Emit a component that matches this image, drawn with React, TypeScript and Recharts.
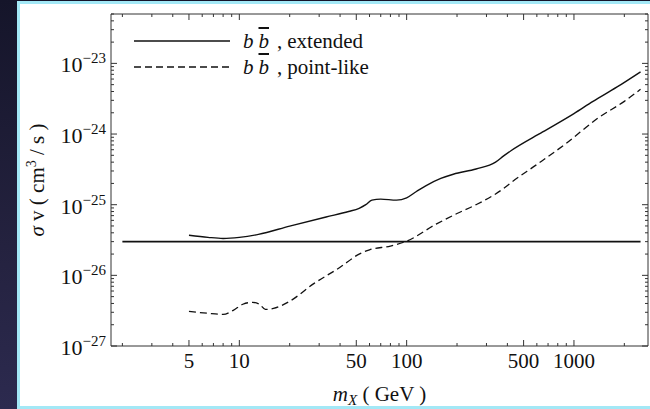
import { LineChart, Line, XAxis, YAxis, ReferenceArea, Legend, Label } from 'recharts';

const SERIF = '"Liberation Serif", "Times New Roman", Times, serif';
const AXIS = '#333';
const INK = '#111';

const WIDTH = 650;
const HEIGHT = 409;
const PLOT_W = 537; // 111 → 648
const PLOT_H = 332; // 14 → 346

const X_MIN = 1.71;
const X_MAX = 2770;
const Y_MIN = 1e-27;
const Y_MAX = 5e-23;

// b b-bar, extended source
const extendedMass = [5, 6.5, 8, 10, 13, 20, 33, 45, 52, 57, 62, 70, 87, 100, 115, 130, 160, 190, 260, 340, 380, 420, 650, 1000, 1300, 1800, 2500];
const extendedSigmaV = [3.7e-26, 3.45e-26, 3.33e-26, 3.45e-26, 3.8e-26, 4.98e-26, 6.7e-26, 8.0e-26, 8.9e-26, 1.0e-25, 1.16e-25, 1.2e-25, 1.16e-25, 1.25e-25, 1.55e-25, 1.85e-25, 2.35e-25, 2.7e-25, 3.2e-25, 4.0e-25, 4.9e-25, 5.8e-25, 1.07e-24, 1.95e-24, 2.9e-24, 4.6e-24, 7.6e-24];

// b b-bar, point-like source
const pointMass = [5, 6.5, 8, 9.2, 10.5, 12, 13.2, 14.3, 16, 20, 28, 40, 52, 60, 80, 100, 150, 200, 260, 340, 380, 420, 600, 900, 1400, 2000, 2500];
const pointSigmaV = [3.1e-27, 2.9e-27, 2.8e-27, 3.2e-27, 3.9e-27, 4.15e-27, 3.9e-27, 3.3e-27, 3.4e-27, 4.3e-27, 7.7e-27, 1.3e-26, 2.0e-26, 2.3e-26, 2.6e-26, 3.05e-26, 5.3e-26, 7.5e-26, 1.0e-25, 1.42e-25, 1.7e-25, 2.05e-25, 3.7e-25, 7.4e-25, 1.7e-24, 2.9e-24, 4.3e-24];

// thermal relic cross section
const relicMass = [2, 2500];
const relicSigmaV = [3e-26, 3e-26];

const xTicks = [2, 3, 4, 5, 6, 7, 8, 9, 10, 20, 30, 40, 50, 60, 70, 80, 90, 100, 200, 300, 400, 500, 600, 700, 800, 900, 1000, 2000];
const xTickLabels = [5, 10, 50, 100, 500, 1000];
const yDecades = [-27, -26, -25, -24, -23];
const yMultipliers = [1, 2, 3, 4, 5, 6, 7, 8, 9];
const yTicks = yDecades.flatMap((d) => yMultipliers.map((k) => k * 10 ** d)).filter((v) => v <= Y_MAX);

const legendRows = [
  { name: 'extended', dash: undefined as string | undefined },
  { name: 'point-like', dash: '7 4' },
];

const toPoints = (ms: number[], vs: number[]) => ms.map((m, i) => ({ m, v: vs[i] }));
const extendedData = toPoints(extendedMass, extendedSigmaV);
const pointData = toPoints(pointMass, pointSigmaV);
const relicData = toPoints(relicMass, relicSigmaV);

function isDecade(v: number) {
  const l = Math.log10(v);
  return Math.abs(l - Math.round(l)) < 1e-9;
}

function XTick({ x, y, payload }: any) {
  const v = payload.value;
  const major = xTickLabels.includes(v);
  const len = major ? 6 : 3;
  return (
    <g>
      <line x1={x} y1={y} x2={x} y2={y - len} stroke={AXIS} />
      <line x1={x} y1={y - PLOT_H} x2={x} y2={y - PLOT_H + len} stroke={AXIS} />
      {major && (
        <text x={x} y={y + 22} textAnchor="middle" fontFamily={SERIF} fontSize={21} fill={INK}>
          {v}
        </text>
      )}
    </g>
  );
}

function YTick({ x, y, payload }: any) {
  const v = payload.value;
  const major = isDecade(v);
  const len = major ? 6 : 3;
  const exp = Math.round(Math.log10(v));
  return (
    <g>
      <line x1={x} y1={y} x2={x + len} y2={y} stroke={AXIS} />
      <line x1={x + PLOT_W} y1={y} x2={x + PLOT_W - len} y2={y} stroke={AXIS} />
      {major && (
        <text x={x - 5} y={y + 9} textAnchor="end" fontFamily={SERIF} fontSize={22} fill={INK}>
          10
          <tspan dy={-9} fontSize={15}>{`\u2212${Math.abs(exp)}`}</tspan>
        </text>
      )}
    </g>
  );
}

function YTitle({ viewBox }: any) {
  const cy = viewBox.y + viewBox.height / 2;
  const cx = 44;
  return (
    <text
      x={cx}
      y={cy}
      transform={`rotate(-90 ${cx} ${cy})`}
      textAnchor="middle"
      fontFamily={SERIF}
      fontSize={21}
      fill={INK}
    >
      <tspan fontStyle="italic">σ</tspan>
      <tspan> v ( cm</tspan>
      <tspan dy={-8} fontSize={14}>3</tspan>
      <tspan dy={8}> / s )</tspan>
    </text>
  );
}

function XTitle({ viewBox }: any) {
  const cx = viewBox.x + viewBox.width / 2;
  return (
    <text x={cx} y={401} textAnchor="middle" fontFamily={SERIF} fontSize={21} fill={INK}>
      <tspan fontStyle="italic">m</tspan>
      <tspan dy={4} fontSize={15} fontStyle="italic">X</tspan>
      <tspan dy={-4}>{'  ( GeV )'}</tspan>
    </text>
  );
}

function LegendBox({ payload }: any) {
  const items = (payload ?? []).filter((p: any) => legendRows.some((r) => r.name === p.value));
  return (
    <div style={{ fontFamily: SERIF, fontSize: 21, color: INK }}>
      {items.map((p: any) => {
        const row = legendRows.find((r) => r.name === p.value)!;
        return (
          <div key={row.name} style={{ display: 'flex', alignItems: 'center', height: 26 }}>
            <svg width={96} height={26} style={{ display: 'block' }}>
              <line x1={0} y1={13} x2={96} y2={13} stroke={INK} strokeWidth={1.4} strokeDasharray={row.dash} />
            </svg>
            <span style={{ marginLeft: 13, whiteSpace: 'pre', lineHeight: '26px' }}>
              <i>b</i>
              <span style={{ display: 'inline-block', width: 5 }} />
              <i style={{ textDecoration: 'overline' }}>b</i>
              <span style={{ display: 'inline-block', width: 8 }} />,
              <span style={{ display: 'inline-block', width: 5 }} />
              {row.name}
            </span>
          </div>
        );
      })}
    </div>
  );
}

export default function App() {
  return (
    <div
      style={{
        position: 'absolute',
        left: 0,
        top: 0,
        width: WIDTH,
        height: HEIGHT,
        overflow: 'hidden',
        background: 'linear-gradient(180deg, #15152a 0%, #24223f 60%, #2c2a4f 100%)',
      }}
    >
      <div
        style={{
          position: 'absolute',
          left: 17,
          top: 1,
          width: 650,
          height: 408,
          boxSizing: 'border-box',
          background: '#fff',
          border: '3px solid #a3e8f6',
        }}
      />
      <div style={{ position: 'absolute', left: 0, top: 0 }}>
        <LineChart width={WIDTH} height={HEIGHT} margin={{ top: 14, right: 2, bottom: 0, left: 0 }}>
          <XAxis
            dataKey="m"
            type="number"
            scale="log"
            domain={[X_MIN, X_MAX]}
            allowDataOverflow
            ticks={xTicks}
            interval={0}
            tick={<XTick />}
            tickLine={false}
            tickSize={0}
            tickMargin={0}
            axisLine={false}
            height={63}
          >
            <Label content={<XTitle />} />
          </XAxis>
          <YAxis
            type="number"
            scale="log"
            domain={[Y_MIN, Y_MAX]}
            allowDataOverflow
            ticks={yTicks}
            interval={0}
            tick={<YTick />}
            tickLine={false}
            tickSize={0}
            tickMargin={0}
            axisLine={false}
            width={111}
          >
            <Label content={<YTitle />} />
          </YAxis>
          <ReferenceArea
            x1={X_MIN}
            x2={X_MAX}
            y1={Y_MIN}
            y2={Y_MAX}
            fill="none"
            stroke={AXIS}
            strokeWidth={1}
            ifOverflow="visible"
          />
          <Line
            data={relicData}
            dataKey="v"
            name="relic"
            legendType="none"
            type="linear"
            stroke={INK}
            strokeWidth={1.6}
            dot={false}
            isAnimationActive={false}
          />
          <Line
            data={extendedData}
            dataKey="v"
            name="extended"
            type="monotone"
            stroke={INK}
            strokeWidth={1.4}
            dot={false}
            isAnimationActive={false}
          />
          <Line
            data={pointData}
            dataKey="v"
            name="point-like"
            type="monotone"
            stroke={INK}
            strokeWidth={1.3}
            strokeDasharray="7 4"
            dot={false}
            isAnimationActive={false}
          />
          <Legend
            layout="horizontal"
            align="center"
            verticalAlign="middle"
            content={<LegendBox />}
            wrapperStyle={{ left: 134, top: 28, width: 300, height: 60 }}
          />
        </LineChart>
      </div>
    </div>
  );
}
